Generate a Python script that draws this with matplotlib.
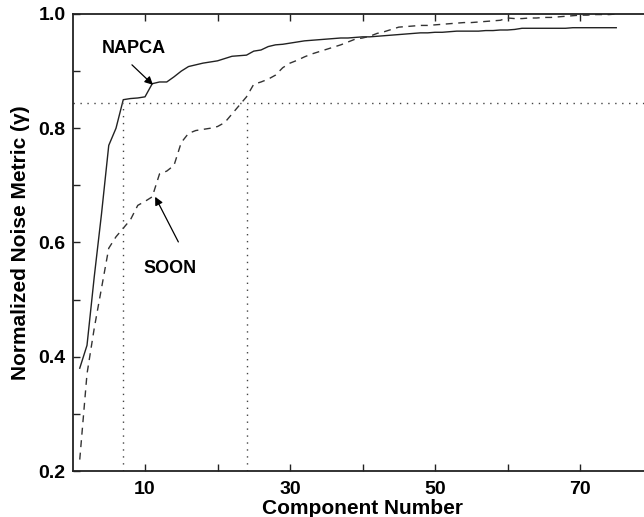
import matplotlib
matplotlib.use("Agg")
import matplotlib.pyplot as plt
from matplotlib.ticker import MultipleLocator, FixedLocator, FormatStrFormatter
import numpy as np

plt.rcParams['font.family'] = ['Liberation Sans', 'DejaVu Sans']
plt.rcParams['font.weight'] = 'bold'

# component index
components = np.arange(1, 76)

# NAPCA normalized noise metric
napca = [0.38, 0.42, 0.54, 0.65, 0.77, 0.80, 0.85, 0.852, 0.853, 0.855,
         0.878, 0.881, 0.881, 0.890, 0.900, 0.908, 0.911, 0.914, 0.916, 0.918,
         0.922, 0.926, 0.927, 0.928, 0.935, 0.937, 0.943, 0.946, 0.947, 0.949,
         0.951, 0.953, 0.954, 0.955, 0.956, 0.957, 0.958, 0.958, 0.959, 0.960,
         0.960, 0.961, 0.962, 0.963, 0.964, 0.965, 0.966, 0.967, 0.967, 0.968,
         0.968, 0.969, 0.970, 0.970, 0.970, 0.970, 0.971, 0.971, 0.972, 0.972,
         0.973, 0.975, 0.975, 0.975, 0.975, 0.975, 0.975, 0.975, 0.976, 0.976,
         0.976, 0.976, 0.976, 0.976, 0.976]

# SOON normalized noise metric
soon = [0.22, 0.37, 0.45, 0.52, 0.59, 0.61, 0.625, 0.64, 0.665, 0.672,
        0.68, 0.72, 0.725, 0.735, 0.775, 0.791, 0.796, 0.798, 0.800, 0.803,
        0.810, 0.825, 0.840, 0.855, 0.877, 0.881, 0.886, 0.893, 0.906, 0.914,
        0.919, 0.925, 0.930, 0.934, 0.938, 0.942, 0.946, 0.951, 0.956, 0.958,
        0.961, 0.966, 0.969, 0.973, 0.977, 0.978, 0.979, 0.980, 0.980, 0.981,
        0.982, 0.983, 0.984, 0.985, 0.985, 0.986, 0.987, 0.988, 0.989, 0.993,
        0.992, 0.992, 0.993, 0.993, 0.994, 0.994, 0.995, 0.996, 0.997, 0.998,
        0.998, 0.999, 0.999, 0.999, 1.000]

threshold = 0.844
cut_napca = 7
cut_soon = 24

fig = plt.figure(figsize=(6.44, 5.17), dpi=100)
ax = fig.add_axes([72.5 / 644, 46 / 517, 580 / 644, 457 / 517])

ax.plot(components, napca, color='#222222', lw=1.0, ls='-')
ax.plot(components, soon, color='#333333', lw=1.0, ls=(0, (5, 4)))

# threshold guides
ax.axhline(threshold, color='#444444', lw=1.0, ls=(0, (1, 4)))
for c in (cut_napca, cut_soon):
    ax.plot([c, c], [0.2, threshold], color='#444444', lw=1.0, ls=(0, (1, 4)))

# labels with arrows (text placed separately from arrow tail)
arrow = dict(arrowstyle='-|>', color='black', lw=0.9,
             shrinkA=0, shrinkB=0, mutation_scale=12)
ax.annotate('', xy=(11.1, 0.876), xytext=(8.2, 0.911), arrowprops=arrow)
ax.text(8.5, 0.94, 'NAPCA', ha='center', va='center', fontsize=13, fontweight='bold')
ax.annotate('', xy=(11.4, 0.68), xytext=(14.6, 0.601), arrowprops=arrow)
ax.text(13.4, 0.555, 'SOON', ha='center', va='center', fontsize=13, fontweight='bold')

ax.set_xlim(0, 80)
ax.set_ylim(0.2, 1.0)
ax.xaxis.set_major_locator(FixedLocator([10, 30, 50, 70]))
ax.xaxis.set_minor_locator(FixedLocator([20, 40, 60]))
ax.yaxis.set_major_locator(MultipleLocator(0.2))
ax.yaxis.set_minor_locator(FixedLocator([0.3, 0.5, 0.7, 0.9]))
ax.yaxis.set_major_formatter(FormatStrFormatter('%.1f'))
ax.tick_params(which='both', direction='in', top=True, right=True,
               labelsize=14, width=1.0, color='#222222', length=5)
ax.tick_params(axis='x', pad=7)
ax.tick_params(axis='y', pad=5)
for s in ax.spines.values():
    s.set_linewidth(1.3)
    s.set_color('#222222')

ax.set_xlabel('Component Number', fontsize=15, fontweight='bold', labelpad=1)
ax.set_ylabel('Normalized Noise Metric (γ)', fontsize=15, fontweight='bold', labelpad=6)

fig.savefig('out.png', dpi=100)
